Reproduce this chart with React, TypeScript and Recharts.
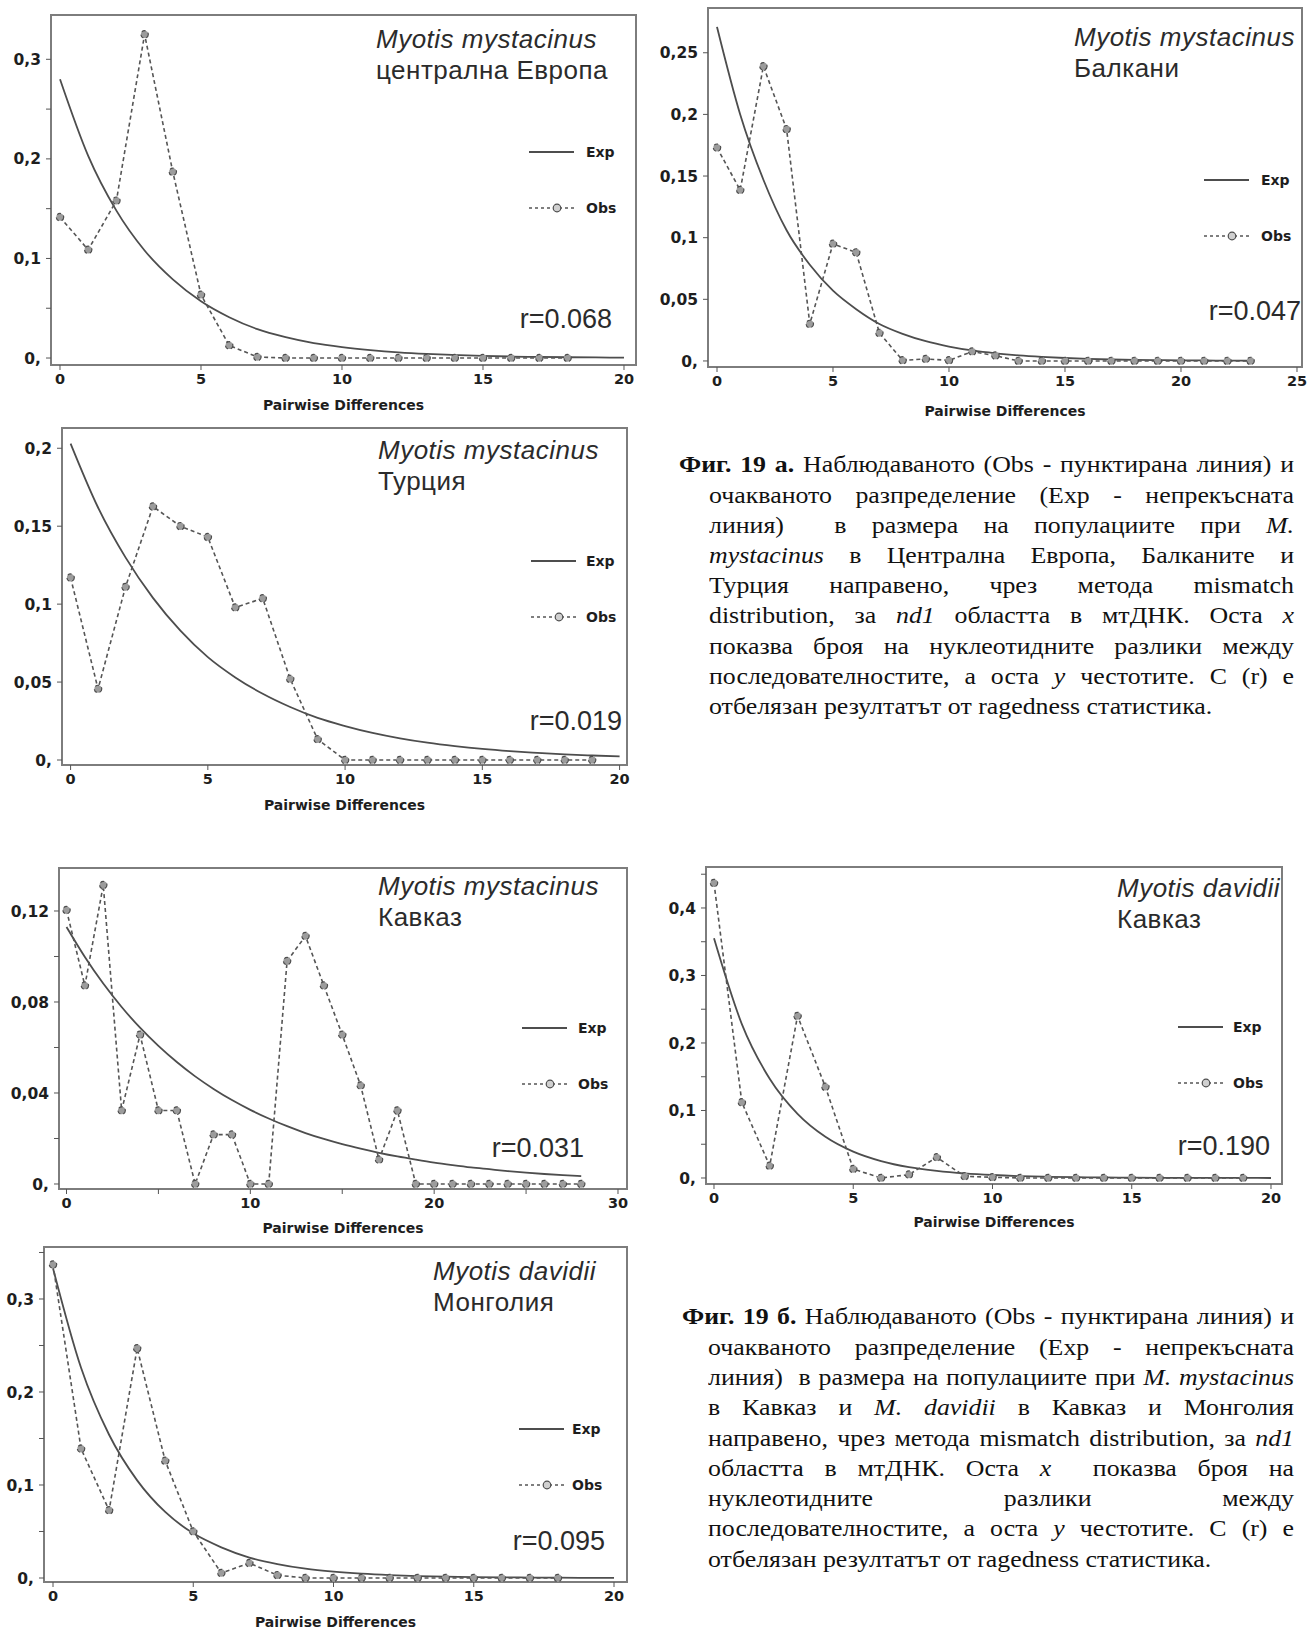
import React from 'react';
import { LineChart, Line, XAxis, YAxis, ReferenceArea } from 'recharts';

const centralEuropeObs = [0.1415, 0.1087, 0.158, 0.325, 0.187, 0.0635, 0.0127, 0.001, 0, 0, 0, 0, 0, 0, 0, 0, 0, 0, 0];
const centralEuropeExp = [0.28, 0.203, 0.148, 0.108, 0.079, 0.057, 0.041, 0.029, 0.021, 0.015, 0.011, 0.008, 0.0057, 0.0041, 0.003, 0.0021, 0.0015, 0.0011, 0.0008, 0.0006, 0.0004];

const balkansObs = [0.173, 0.1386, 0.239, 0.188, 0.03, 0.095, 0.088, 0.0227, 0.0005, 0.0016, 0.0005, 0.0076, 0.0043, 0, 0, 0, 0, 0, 0, 0, 0, 0, 0, 0];
const balkansExp = [0.271, 0.2, 0.147, 0.106, 0.078, 0.057, 0.042, 0.03, 0.022, 0.016, 0.0117, 0.0085, 0.0062, 0.0045, 0.0033, 0.0024, 0.0017, 0.0012, 0.0009, 0.0007, 0.0005, 0.0004, 0.0003, 0.0002];

const turkeyObs = [0.117, 0.0456, 0.111, 0.1626, 0.15, 0.143, 0.0978, 0.1037, 0.052, 0.0133, 0, 0, 0, 0, 0, 0, 0, 0, 0, 0];
const turkeyExp = [0.203, 0.162, 0.13, 0.104, 0.083, 0.066, 0.053, 0.0425, 0.034, 0.027, 0.0218, 0.0174, 0.0139, 0.0111, 0.0089, 0.0071, 0.0057, 0.0046, 0.0036, 0.0029, 0.0023];

const caucasusObs = [0.1204, 0.0872, 0.1314, 0.0323, 0.0656, 0.0323, 0.0323, 0, 0.0217, 0.0217, 0, 0, 0.098, 0.109, 0.0872, 0.0656, 0.0433, 0.0107, 0.0323, 0, 0, 0, 0, 0, 0, 0, 0, 0, 0];
const caucasusExp = [0.113, 0.0998, 0.0881, 0.0778, 0.0687, 0.0607, 0.0536, 0.0473, 0.0418, 0.0369, 0.0326, 0.0288, 0.0254, 0.0224, 0.0198, 0.0175, 0.0155, 0.0137, 0.0121, 0.0107, 0.0094, 0.0083, 0.0073, 0.0065, 0.0057, 0.005, 0.0044, 0.0039, 0.0035];

const davidiiCaucasusObs = [0.437, 0.112, 0.018, 0.24, 0.135, 0.0133, 0, 0.005, 0.0306, 0.0025, 0.001, 0, 0, 0, 0, 0, 0, 0, 0, 0];
const davidiiCaucasusExp = [0.355, 0.228, 0.147, 0.095, 0.061, 0.039, 0.025, 0.016, 0.0105, 0.0068, 0.0044, 0.0028, 0.0018, 0.0012, 0.0008, 0.0005, 0.0003, 0.0002, 0.0001, 0.0001, 0];

const mongoliaObs = [0.337, 0.139, 0.0728, 0.247, 0.126, 0.05, 0.0054, 0.016, 0.003, 0, 0, 0, 0, 0, 0, 0, 0, 0, 0];
const mongoliaExp = [0.333, 0.226, 0.154, 0.105, 0.071, 0.048, 0.033, 0.022, 0.015, 0.01, 0.0068, 0.0046, 0.0031, 0.0021, 0.0014, 0.001, 0.0007, 0.0005, 0.0003, 0.0002, 0.0001];

const xTicks20 = [0, 5, 10, 15, 20];
const xTicks25 = [0, 5, 10, 15, 20, 25];
const xTicks30 = [0, 10, 20, 30];
const xMinor30 = [5, 15, 25];

const yTicks03 = [0, 0.1, 0.2, 0.3];
const yMinor03 = [0.05, 0.15, 0.25];
const yTicks025 = [0, 0.05, 0.1, 0.15, 0.2, 0.25];
const yTicks02 = [0, 0.05, 0.1, 0.15, 0.2];
const yTicks012 = [0, 0.04, 0.08, 0.12];
const yMinor012 = [0.02, 0.06, 0.1];
const yTicks04 = [0, 0.1, 0.2, 0.3, 0.4];
const yMinor04 = [0.05, 0.15, 0.25, 0.35, 0.45];
const yMinor035 = [0.05, 0.15, 0.25, 0.35];

const TICK_FONT = "'DejaVu Sans', sans-serif";
const TITLE_FONT = "'Liberation Sans', Arial, sans-serif";

function buildRows(exp: number[], obs: number[]) {
  const n = Math.max(exp.length, obs.length);
  return Array.from({ length: n }, (_, i) => ({ x: i, exp: exp[i], obs: obs[i] }));
}

const fmtY = (v: number) => (v === 0 ? '0,' : String(v).replace('.', ','));

// box = plot frame in page pixels; domains padded so frame edges match the picture
const panels = [
  {
    key: 'ce', L: 51, T: 15, R: 636, B: 365,
    xDomain: [-0.319, 20.426], yDomain: [-0.007, 0.3445],
    xTicks: xTicks20, xMinor: [], yTicks: yTicks03, yMinor: yMinor03,
    exp: centralEuropeExp, obs: centralEuropeObs,
    species: 'Myotis mystacinus', region: 'централна Европа', tx: 376, ty: 48,
    legX: 529, legTx: 586, legY: 152, r: 'r=0.068', rx: 612, ry: 328, axY: 410,
  },
  {
    key: 'bal', L: 708, T: 8, R: 1302, B: 367,
    xDomain: [-0.388, 25.216], yDomain: [-0.0049, 0.2863],
    xTicks: xTicks25, xMinor: [], yTicks: yTicks025, yMinor: [],
    exp: balkansExp, obs: balkansObs,
    species: 'Myotis mystacinus', region: 'Балкани', tx: 1074, ty: 46,
    legX: 1204, legTx: 1261, legY: 180, r: 'r=0.047', rx: 1301, ry: 320, axY: 416,
  },
  {
    key: 'tr', L: 62, T: 428, R: 627, B: 765,
    xDomain: [-0.313, 20.27], yDomain: [-0.0032, 0.213],
    xTicks: xTicks20, xMinor: [], yTicks: yTicks02, yMinor: [],
    exp: turkeyExp, obs: turkeyObs,
    species: 'Myotis mystacinus', region: 'Турция', tx: 378, ty: 459,
    legX: 531, legTx: 586, legY: 561, r: 'r=0.019', rx: 622, ry: 730, axY: 810,
  },
  {
    key: 'cau', L: 59, T: 868, R: 627, B: 1189,
    xDomain: [-0.408, 30.49], yDomain: [-0.0022, 0.1389],
    xTicks: xTicks30, xMinor: xMinor30, yTicks: yTicks012, yMinor: yMinor012,
    exp: caucasusExp, obs: caucasusObs,
    species: 'Myotis mystacinus', region: 'Кавказ', tx: 378, ty: 895,
    legX: 522, legTx: 578, legY: 1028, r: 'r=0.031', rx: 584, ry: 1157, axY: 1233,
  },
  {
    key: 'dcau', L: 706, T: 867, R: 1282, B: 1184,
    xDomain: [-0.287, 20.395], yDomain: [-0.0089, 0.4607],
    xTicks: xTicks20, xMinor: [], yTicks: yTicks04, yMinor: yMinor04,
    exp: davidiiCaucasusExp, obs: davidiiCaucasusObs,
    species: 'Myotis davidii', region: 'Кавказ', tx: 1117, ty: 897,
    legX: 1178, legTx: 1233, legY: 1027, r: 'r=0.190', rx: 1270, ry: 1155, axY: 1227,
  },
  {
    key: 'mon', L: 44, T: 1247, R: 627, B: 1582,
    xDomain: [-0.321, 20.463], yDomain: [-0.0043, 0.3559],
    xTicks: xTicks20, xMinor: [], yTicks: yTicks03, yMinor: yMinor035,
    exp: mongoliaExp, obs: mongoliaObs,
    species: 'Myotis davidii', region: 'Монголия', tx: 433, ty: 1280,
    legX: 519, legTx: 572, legY: 1429, r: 'r=0.095', rx: 605, ry: 1550, axY: 1627,
  },
];

function Panel({ p }: { p: any }) {
  const rows = buildRows(p.exp, p.obs);
  const w = p.R - p.L + 70;
  const h = p.B - p.T + 60;
  const XTick = (props: any) => {
    const v = props.payload.value;
    if (!p.xTicks.includes(v)) return <g />;
    return (
      <text x={props.x} y={props.y} dy="0.72em" textAnchor="middle" fontFamily={TICK_FONT} fontWeight="bold" fontSize={14.5} fill="#1e1e1e">
        {v}
      </text>
    );
  };
  const YTick = (props: any) => {
    const v = props.payload.value;
    if (!p.yTicks.includes(v)) return <g />;
    return (
      <text x={props.x} y={props.y} dy="0.36em" textAnchor="end" fontFamily={TICK_FONT} fontWeight="bold" fontSize={15.5} fill="#1e1e1e">
        {fmtY(v)}
      </text>
    );
  };
  return (
    <div style={{ position: 'absolute', left: p.L - 60, top: p.T - 10 }}>
      <LineChart width={w} height={h} data={rows} margin={{ top: 10, right: 10, left: 0, bottom: 0 }}>
        <XAxis
          type="number" dataKey="x" domain={p.xDomain} allowDataOverflow
          ticks={[...p.xTicks, ...p.xMinor]} interval={0} height={50}
          axisLine={false} tickSize={5} tickMargin={4}
          tickLine={{ stroke: '#555' }} tick={XTick}
        />
        <YAxis
          type="number" domain={p.yDomain} allowDataOverflow
          ticks={[...p.yTicks, ...p.yMinor]} interval={0} width={60}
          axisLine={false} tickSize={5} tickMargin={5}
          tickLine={{ stroke: '#555' }} tick={YTick}
        />
        <ReferenceArea
          x1={p.xDomain[0]} x2={p.xDomain[1]} y1={p.yDomain[0]} y2={p.yDomain[1]}
          fill="#fff" fillOpacity={0} stroke="#7d7d7d" strokeWidth={2} ifOverflow="visible"
        />
        <Line dataKey="exp" type="monotone" stroke="#4d4d4d" strokeWidth={1.8} dot={false} isAnimationActive={false} />
        <Line
          dataKey="obs" type="linear" stroke="#555" strokeWidth={1.6} strokeDasharray="4 3"
          dot={{ r: 3.7, fill: '#9c9c9c', stroke: '#4d4d4d', strokeWidth: 1.2 }}
          isAnimationActive={false}
        />
      </LineChart>
    </div>
  );
}

function Overlay() {
  return (
    <svg width={1311} height={1633} style={{ position: 'absolute', left: 0, top: 0, pointerEvents: 'none' }}>
      {panels.map((p) => (
        <g key={p.key}>
          <text x={p.tx} y={p.ty} fontFamily={TITLE_FONT} fontStyle="italic" fontSize={26} letterSpacing={0.5} fill="#2b2b2b">
            {p.species}
          </text>
          <text x={p.tx} y={p.ty + 31} fontFamily={TITLE_FONT} fontSize={26} letterSpacing={0.5} fill="#2b2b2b">
            {p.region}
          </text>
          <line x1={p.legX} x2={p.legX + 45} y1={p.legY} y2={p.legY} stroke="#4d4d4d" strokeWidth={2} />
          <text x={p.legTx} y={p.legY} dy="0.36em" fontFamily={TICK_FONT} fontWeight="bold" fontSize={14} fill="#1e1e1e">Exp</text>
          <line x1={p.legX} x2={p.legX + 45} y1={p.legY + 56} y2={p.legY + 56} stroke="#555" strokeWidth={1.6} strokeDasharray="3 3" />
          <circle cx={p.legX + 28} cy={p.legY + 56} r={3.8} fill="#d0d0d0" stroke="#4d4d4d" strokeWidth={1.2} />
          <text x={p.legTx} y={p.legY + 56} dy="0.36em" fontFamily={TICK_FONT} fontWeight="bold" fontSize={14} fill="#1e1e1e">Obs</text>
          <text x={p.rx} y={p.ry} textAnchor="end" fontFamily={TITLE_FONT} fontSize={27} fill="#2b2b2b">{p.r}</text>
          <text x={(p.L + p.R) / 2} y={p.axY} textAnchor="middle" fontFamily={TICK_FONT} fontWeight="bold" fontSize={14} fill="#1e1e1e">
            Pairwise Differences
          </text>
        </g>
      ))}
    </svg>
  );
}

const CAP_FS = 23.5;
const CAP_SX = 1.1;

function Caption({ lines, firstLeft, left, right, base, step }: any) {
  return (
    <>
      {lines.map((ln: any, i: number) => {
        const x0 = i === 0 ? firstLeft : left;
        const last = i === lines.length - 1;
        return (
          <div
            key={i}
            style={{
              position: 'absolute', left: x0, width: (right - x0) / CAP_SX,
              top: base + step * i - CAP_FS * 0.8375,
              transform: `scaleX(${CAP_SX})`, transformOrigin: '0 0',
              fontFamily: "'Liberation Serif', 'Times New Roman', serif",
              fontSize: CAP_FS, lineHeight: `${CAP_FS}px`, color: '#111',
              whiteSpace: 'nowrap', textAlign: last ? 'left' : 'justify',
              textAlignLast: last ? 'left' : 'justify',
            }}
          >
            {ln}
          </div>
        );
      })}
    </>
  );
}

const captionA = [
  <><b>Фиг. 19 а.</b> Наблюдаваното (Obs - пунктирана линия) и</>,
  <>очакваното разпределение (Exp - непрекъсната</>,
  <>линия)&nbsp; в размера на популациите при <i>M.</i></>,
  <><i>mystacinus</i> в Централна Европа, Балканите и</>,
  <>Турция направено, чрез метода mismatch</>,
  <>distribution, за <i>nd1</i> областта в мтДНК. Оста <i>x</i></>,
  <>показва броя на нуклеотидните разлики между</>,
  <>последователностите, а оста <i>y</i> честотите. С (r) е</>,
  <>отбелязан резултатът от ragedness статистика.</>,
];

const captionB = [
  <><b>Фиг. 19 б.</b> Наблюдаваното (Obs - пунктирана линия) и</>,
  <>очакваното разпределение (Exp - непрекъсната</>,
  <>линия)&nbsp; в размера на популациите при <i>M. mystacinus</i></>,
  <>в Кавказ и <i>M. davidii</i> в Кавказ и Монголия</>,
  <>направено, чрез метода mismatch distribution, за <i>nd1</i></>,
  <>областта в мтДНК. Оста <i>x</i>&nbsp; показва броя на</>,
  <>нуклеотидните разлики между</>,
  <>последователностите, а оста <i>y</i> честотите. С (r) е</>,
  <>отбелязан резултатът от ragedness статистика.</>,
];

export default function App() {
  return (
    <div style={{ position: 'absolute', left: 0, top: 0, width: 1311, height: 1633, background: '#fff', overflow: 'hidden' }}>
      {panels.map((p) => (
        <Panel key={p.key} p={p} />
      ))}
      <Overlay />
      <Caption lines={captionA} firstLeft={679} left={709} right={1294} base={473} step={30.2} />
      <Caption lines={captionB} firstLeft={682} left={708} right={1294} base={1325} step={30.3} />
    </div>
  );
}
